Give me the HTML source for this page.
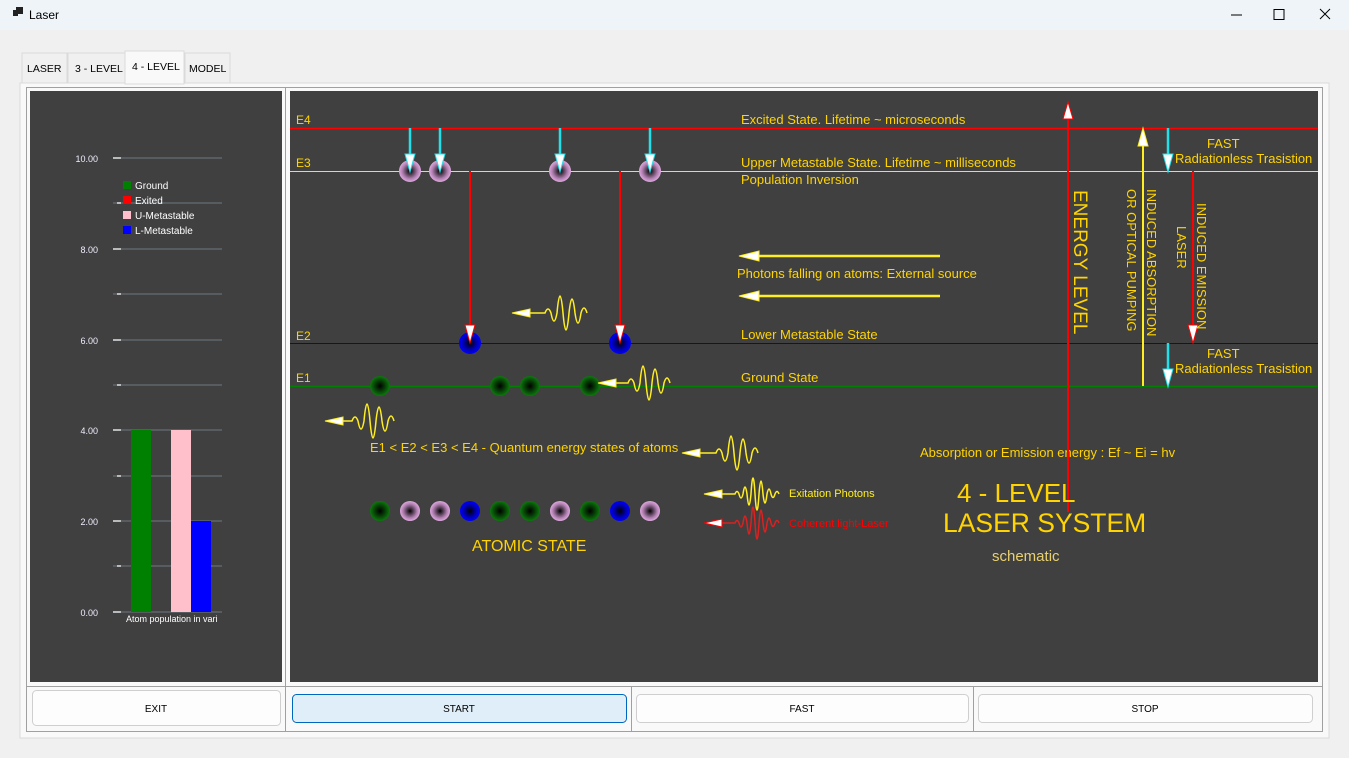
<!DOCTYPE html>
<html><head><meta charset="utf-8"><style>
html,body{margin:0;padding:0;width:1349px;height:758px;overflow:hidden;background:#f0f0f0;font-family:"Liberation Sans",sans-serif}
svg{display:block}
</style></head><body>
<svg width="1349" height="758" viewBox="0 0 1349 758" xmlns="http://www.w3.org/2000/svg" font-family="Liberation Sans, sans-serif">
<defs>
<radialGradient id="gG"><stop offset="0" stop-color="#000"/><stop offset="0.75" stop-color="#0a5a0a"/><stop offset="1" stop-color="#0b7a0b"/></radialGradient>
<radialGradient id="gP"><stop offset="0" stop-color="#000"/><stop offset="0.7" stop-color="#b080b0"/><stop offset="1" stop-color="#e0a8e0"/></radialGradient>
<radialGradient id="gB"><stop offset="0" stop-color="#000"/><stop offset="0.6" stop-color="#0000b0"/><stop offset="1" stop-color="#0000ff"/></radialGradient>
</defs>
<rect x="0" y="0" width="1349" height="30" fill="#eef4f8"/>
<rect x="13" y="10" width="5" height="6" fill="#222"/><rect x="16" y="7" width="7" height="7" fill="#222"/>
<text x="29" y="19" font-size="12" fill="#000">Laser</text>
<line x1="1231" y1="15" x2="1242" y2="15" stroke="#000"/>
<rect x="1274" y="9.5" width="10" height="10" fill="none" stroke="#000"/>
<path d="M1320,9 L1330,19 M1330,9 L1320,19" stroke="#000"/>
<rect x="20" y="83" width="1309" height="655" fill="#f9f9f9" stroke="#dadada"/>
<rect x="22" y="53" width="45" height="30" fill="#f0f0f0" stroke="#dadada"/>
<rect x="68" y="53" width="57" height="30" fill="#f0f0f0" stroke="#dadada"/>
<rect x="125" y="51" width="59" height="33" fill="#f9f9f9" stroke="#dadada"/>
<rect x="185" y="53" width="45" height="30" fill="#f0f0f0" stroke="#dadada"/>
<g font-size="10.5" fill="#000"><text x="27" y="72">LASER</text><text x="75" y="72">3 - LEVEL</text><text x="132" y="70">4 - LEVEL</text><text x="189" y="72">MODEL</text></g>
<rect x="26.5" y="87.5" width="259" height="644" fill="none" stroke="#a0a0a0"/>
<rect x="285.5" y="87.5" width="1037" height="644" fill="none" stroke="#a0a0a0"/>
<line x1="26" y1="686.5" x2="1323" y2="686.5" stroke="#a0a0a0"/>
<line x1="631.5" y1="687" x2="631.5" y2="731" stroke="#a0a0a0"/>
<line x1="973.5" y1="687" x2="973.5" y2="731" stroke="#a0a0a0"/>
<rect x="30" y="91" width="252" height="591" fill="#404040"/>
<g stroke="#5d666a" stroke-width="1.5">
<line x1="113" y1="158" x2="222" y2="158"/><line x1="113" y1="203" x2="222" y2="203"/><line x1="113" y1="249" x2="222" y2="249"/><line x1="113" y1="294" x2="222" y2="294"/><line x1="113" y1="340" x2="222" y2="340"/><line x1="113" y1="385" x2="222" y2="385"/><line x1="113" y1="430" x2="222" y2="430"/><line x1="113" y1="476" x2="222" y2="476"/><line x1="113" y1="521" x2="222" y2="521"/><line x1="113" y1="566" x2="222" y2="566"/><line x1="113" y1="612" x2="222" y2="612"/>
</g>
<g stroke="#ddd" stroke-width="1.5"><line x1="113" y1="158" x2="121" y2="158"/><line x1="113" y1="249" x2="121" y2="249"/><line x1="113" y1="340" x2="121" y2="340"/><line x1="113" y1="430" x2="121" y2="430"/><line x1="113" y1="521" x2="121" y2="521"/><line x1="113" y1="612" x2="121" y2="612"/>
<line x1="117" y1="203" x2="121" y2="203"/><line x1="117" y1="294" x2="121" y2="294"/><line x1="117" y1="385" x2="121" y2="385"/><line x1="117" y1="476" x2="121" y2="476"/><line x1="117" y1="566" x2="121" y2="566"/></g>
<g font-size="9" fill="#eef" text-anchor="end"><text x="98" y="162">10.00</text><text x="98" y="253">8.00</text><text x="98" y="344">6.00</text><text x="98" y="434">4.00</text><text x="98" y="525">2.00</text><text x="98" y="616">0.00</text></g>
<rect x="131" y="430" width="20" height="182" fill="#008000"/>
<rect x="171" y="430" width="20" height="182" fill="#ffc0cb"/>
<rect x="191" y="521" width="20" height="91" fill="#0000ff"/>
<rect x="123" y="181" width="8" height="8" fill="#008000"/><rect x="123" y="196" width="8" height="8" fill="#ff0000"/><rect x="123" y="211" width="8" height="8" fill="#ffc0cb"/><rect x="123" y="226" width="8" height="8" fill="#0000ff"/>
<g font-size="10" fill="#fff"><text x="135" y="189">Ground</text><text x="135" y="204">Exited</text><text x="135" y="219">U-Metastable</text><text x="135" y="234">L-Metastable</text></g>
<text x="126" y="622" font-size="9" fill="#fff">Atom population in vari</text>
<rect x="290" y="91" width="1028" height="591" fill="#404040"/>
<line x1="290" y1="128.5" x2="1318" y2="128.5" stroke="#ff0000" stroke-width="1.5"/>
<line x1="290" y1="171.5" x2="1318" y2="171.5" stroke="#ffc0cb"/>
<line x1="290" y1="343.5" x2="1318" y2="343.5" stroke="#0000c8"/>
<line x1="290" y1="386.5" x2="1318" y2="386.5" stroke="#008000" stroke-width="1.5"/>
<g font-size="13" fill="#ffd400">
<text x="296" y="124" font-size="12">E4</text><text x="296" y="167" font-size="12">E3</text><text x="296" y="340" font-size="12">E2</text><text x="296" y="382" font-size="12">E1</text>
<text x="741" y="124">Excited State. Lifetime ~ microseconds</text>
<text x="741" y="167">Upper Metastable State. Lifetime ~ milliseconds</text>
<text x="741" y="184">Population Inversion</text>
<text x="737" y="278">Photons falling on atoms: External source</text>
<text x="741" y="339">Lower Metastable State</text>
<text x="741" y="382">Ground State</text>
<text x="1207" y="148">FAST</text><text x="1175" y="163">Radiationless Trasistion</text>
<text x="1207" y="358">FAST</text><text x="1175" y="373">Radiationless Trasistion</text>
<text x="370" y="452">E1 &lt; E2 &lt; E3 &lt; E4 - Quantum energy states of atoms</text>
<text x="920" y="457">Absorption or Emission energy : Ef ~ Ei = hv</text>
</g>
<line x1="1068" y1="112" x2="1068" y2="512" stroke="#ff0000" stroke-width="2"/>
<path d="M1068,102 L1073,119 L1063,119 Z" fill="#fff" stroke="#ff0000"/>
<line x1="1143" y1="136" x2="1143" y2="386" stroke="#ffee22" stroke-width="2"/>
<path d="M1143,128 L1148,146 L1138,146 Z" fill="#fff" stroke="#ffee22"/>
<line x1="1193" y1="171" x2="1193" y2="335" stroke="#ff0000" stroke-width="2"/>
<path d="M1193,343 L1188,325 L1198,325 Z" fill="#fff" stroke="#ff0000"/>
<g font-size="13" fill="#ffd400">
<text transform="translate(1074,190) rotate(90)" font-size="19">ENERGY LEVEL</text>
<text transform="translate(1147,189) rotate(90)">INDUCED ABSORPTION</text>
<text transform="translate(1127,189) rotate(90)">OR OPTICAL PUMPING</text>
<text transform="translate(1177,226) rotate(90)">LASER</text>
<text transform="translate(1197,203) rotate(90)">INDUCED EMISSION</text>
</g>
<g stroke="#22e0e8" stroke-width="2.5">
<line x1="410" y1="128" x2="410" y2="155"/><line x1="440" y1="128" x2="440" y2="155"/><line x1="560" y1="128" x2="560" y2="155"/><line x1="650" y1="128" x2="650" y2="155"/><line x1="1168" y1="128" x2="1168" y2="155"/><line x1="1168" y1="343" x2="1168" y2="370"/>
</g>
<g stroke="#ff0000" stroke-width="2"><line x1="470" y1="171" x2="470" y2="330"/><line x1="620" y1="171" x2="620" y2="330"/></g>
<g>
<circle cx="410" cy="171" r="11" fill="url(#gP)"/><circle cx="440" cy="171" r="11" fill="url(#gP)"/><circle cx="560" cy="171" r="11" fill="url(#gP)"/><circle cx="650" cy="171" r="11" fill="url(#gP)"/>
<circle cx="470" cy="343" r="11" fill="url(#gB)"/><circle cx="620" cy="343" r="11" fill="url(#gB)"/>
<circle cx="380" cy="386" r="10" fill="url(#gG)"/><circle cx="500" cy="386" r="10" fill="url(#gG)"/><circle cx="530" cy="386" r="10" fill="url(#gG)"/><circle cx="590" cy="386" r="10" fill="url(#gG)"/>
<circle cx="380" cy="511" r="10" fill="url(#gG)"/><circle cx="410" cy="511" r="10" fill="url(#gP)"/><circle cx="440" cy="511" r="10" fill="url(#gP)"/><circle cx="470" cy="511" r="10" fill="url(#gB)"/><circle cx="500" cy="511" r="10" fill="url(#gG)"/><circle cx="530" cy="511" r="10" fill="url(#gG)"/><circle cx="560" cy="511" r="10" fill="url(#gP)"/><circle cx="590" cy="511" r="10" fill="url(#gG)"/><circle cx="620" cy="511" r="10" fill="url(#gB)"/><circle cx="650" cy="511" r="10" fill="url(#gP)"/>
</g>
<g fill="#fff" stroke="#22e0e8"><path d="M410,172 L405,154 L415,154Z"/><path d="M440,172 L435,154 L445,154Z"/><path d="M560,172 L555,154 L565,154Z"/><path d="M650,172 L645,154 L655,154Z"/><path d="M1168,172 L1163,154 L1173,154Z"/><path d="M1168,387 L1163,369 L1173,369Z"/></g>
<g fill="#fff" stroke="#ff0000"><path d="M470,343 L465,325 L475,325Z"/><path d="M620,343 L615,325 L625,325Z"/></g>
<g stroke="#ffee22" stroke-width="2.5"><line x1="755" y1="256" x2="940" y2="256"/><line x1="755" y1="296" x2="940" y2="296"/></g>
<g fill="#fff" stroke="#ffee22"><path d="M739,256 L759,251 L759,261Z"/><path d="M739,296 L759,291 L759,301Z"/></g>
<g fill="none" stroke="#ffee22" stroke-width="1.5">
<path d="M525,313 L545,313 q3,-8 6,0 q3,16 6,0 q3,-34 6,0 q3,34 6,0 q3,-28 6,0 q3,20 6,0 q3,-10 6,0"/>
<path d="M612,383 L628,383 q3,-8 6,0 q3,16 6,0 q3,-34 6,0 q3,34 6,0 q3,-28 6,0 q3,20 6,0 q3,-10 6,0"/>
<path d="M340,421 L352,421 q3,-8 6,0 q3,16 6,0 q3,-34 6,0 q3,34 6,0 q3,-28 6,0 q3,20 6,0 q3,-10 6,0"/>
<path d="M696,453 L716,453 q3,-8 6,0 q3,16 6,0 q3,-34 6,0 q3,34 6,0 q3,-28 6,0 q3,20 6,0 q3,-10 6,0"/>
<path d="M718,494 L735,494 q2,-5 4,0 q2,8 4,0 q2,-14 4,0 q2,22 4,0 q2,-32 4,0 q2,32 4,0 q2,-26 4,0 q2,18 4,0 q2,-10 4,0 q2,7 4,0 q2,-5 4,0"/>
</g>
<path d="M718,523 L735,523 q2,-5 4,0 q2,8 4,0 q2,-14 4,0 q2,22 4,0 q2,-32 4,0 q2,32 4,0 q2,-26 4,0 q2,18 4,0 q2,-10 4,0 q2,7 4,0 q2,-5 4,0" fill="none" stroke="#dd2020" stroke-width="1.5"/>
<g fill="#fff" stroke="#ffee22"><path d="M512,313 L530,309 L530,317Z"/><path d="M598,383 L616,379 L616,387Z"/><path d="M325,421 L343,417 L343,425Z"/><path d="M682,453 L700,449 L700,457Z"/><path d="M704,494 L722,490 L722,498Z"/></g>
<path d="M704,523 L722,519 L722,527Z" fill="#fff" stroke="#ff0000"/>
<text x="789" y="497" font-size="11" fill="#ffee22">Exitation Photons</text>
<text x="789" y="527" font-size="11" fill="#ff0000">Coherent light-Laser</text>
<text x="472" y="551" font-size="16" fill="#ffd400">ATOMIC STATE</text>
<text x="957" y="502" font-size="26" fill="#ffd400">4 - LEVEL</text>
<text x="943" y="532" font-size="26.5" fill="#ffd400">LASER SYSTEM</text>
<text x="992" y="561" font-size="15" fill="#e8d070">schematic</text>
<rect x="32.5" y="690.5" width="248" height="35" rx="4" fill="#fdfdfd" stroke="#cfcfcf"/>
<rect x="292.5" y="694.5" width="334" height="28" rx="4" fill="#e0eef9" stroke="#0067c0"/>
<rect x="636.5" y="694.5" width="332" height="28" rx="4" fill="#fdfdfd" stroke="#cfcfcf"/>
<rect x="978.5" y="694.5" width="334" height="28" rx="4" fill="#fdfdfd" stroke="#cfcfcf"/>
<g font-size="10" fill="#000" text-anchor="middle"><text x="156" y="712">EXIT</text><text x="459" y="712">START</text><text x="802" y="712">FAST</text><text x="1145" y="712">STOP</text></g>
</svg>
</body></html>
